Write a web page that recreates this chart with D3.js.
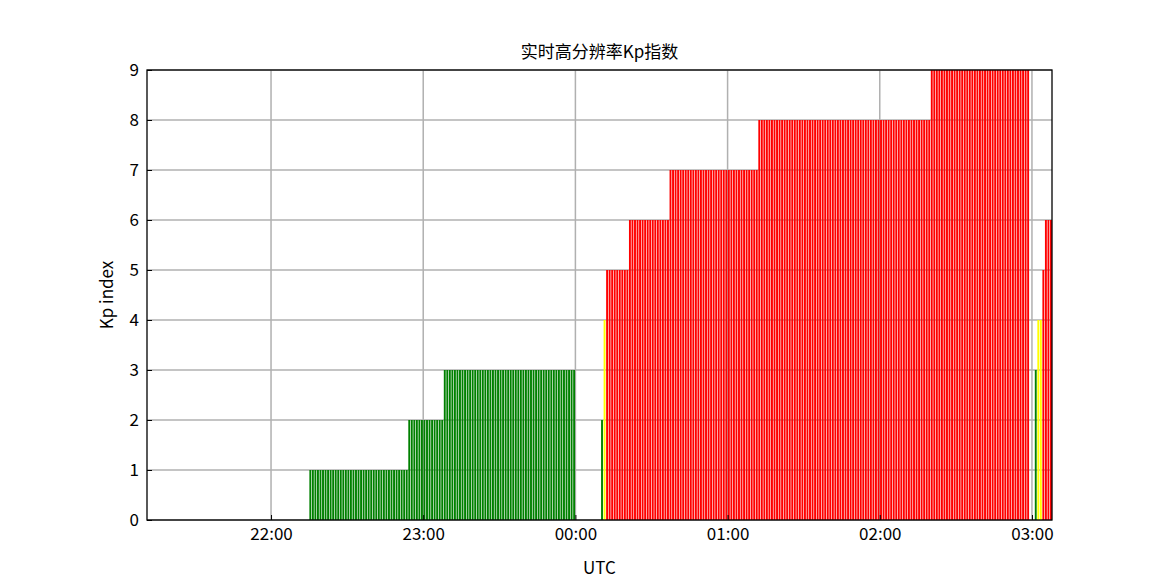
<!DOCTYPE html>
<meta charset="utf-8">
<style>
body { margin: 0; background: #fff; font-family: "Noto Sans CJK SC", "Noto Sans", sans-serif; }
svg text { fill: #000; }
.grid line { stroke: #b0b0b0; stroke-width: 1.5px; }
</style>
<body>
<div id="chart"></div>
<script src="https://d3js.org/d3.v7.min.js"></script>
<script>
// minutes relative to 22:00 UTC; runs of one-minute Kp readings [start, end(exclusive), kp]
var runStart = [-105, -66, -52, 130, 131, 132, 141, 157, 192, 260, 301, 302, 304, 305];
var runEnd   = [ -66, -52,   0, 131, 132, 141, 157, 192, 260, 299, 302, 304, 305, 308];
var runKp    = [   1,   2,   3,   2,   4,   5,   6,   7,   8,   9,   3,   4,   5,   6];
var tickMinutes = [0, 60, 120, 180, 240, 300];
var tickLabels = ['22:00', '23:00', '00:00', '01:00', '02:00', '03:00'];
var yTicks = [0, 1, 2, 3, 4, 5, 6, 7, 8, 9];

// shift first three runs: they start after 22:00
runStart[0] = 15; runEnd[0] = 54;
runStart[1] = 54; runEnd[1] = 68;
runStart[2] = 68; runEnd[2] = 120;

var bars = [];
runStart.forEach(function (s, i) {
  for (var m = s; m < runEnd[i]; m++) bars.push({ t: m, kp: runKp[i] });
});

var margin = { left: 147, right: 118, top: 70, bottom: 65 };
var W = 1170, H = 585;
var w = W - margin.left - margin.right, h = H - margin.top - margin.bottom;

var x = d3.scaleLinear().domain([-48.9, 307.9]).range([0, w]);
var y = d3.scaleLinear().domain([0, 9]).range([h, 0]);

var svg = d3.select('#chart').append('svg').attr('width', W).attr('height', H);
var g = svg.append('g').attr('transform', 'translate(' + [margin.left, margin.top] + ')');

var grid = g.append('g').attr('class', 'grid');
grid.selectAll('.gx').data(tickMinutes).enter().append('line')
  .attr('x1', x).attr('x2', x).attr('y1', 0).attr('y2', h);
grid.selectAll('.gy').data(yTicks).enter().append('line')
  .attr('y1', y).attr('y2', y).attr('x1', 0).attr('x2', w);

function color(kp) { return kp < 4 ? '#008000' : kp === 4 ? '#ffff00' : '#ff0000'; }
var bw = x(1) - x(0);
g.selectAll('.bar').data(bars).enter().append('rect')
  .attr('x', function (d) { return x(d.t) + 0.3; })
  .attr('width', bw * 0.75)
  .attr('y', function (d) { return y(d.kp); })
  .attr('height', function (d) { return h - y(d.kp); })
  .attr('fill', function (d) { return color(d.kp); });

var xAxis = d3.axisBottom(x).tickValues(tickMinutes)
  .tickFormat(function (d, i) { return tickLabels[i]; }).tickSizeInner(-5).tickSizeOuter(0).tickPadding(8);
var yAxis = d3.axisLeft(y).tickValues(yTicks).tickSizeInner(-5).tickSizeOuter(0).tickPadding(8);
var gx = g.append('g').attr('transform', 'translate(0,' + h + ')').call(xAxis);
var gy = g.append('g').call(yAxis);
[gx, gy].forEach(function (a) {
  a.select('.domain').remove();
  a.selectAll('text').style('font-size', '17px').style('font-family', '"Noto Sans CJK SC", sans-serif');
  a.selectAll('line').attr('stroke', '#000');
});

g.append('rect').attr('width', w).attr('height', h)
  .attr('fill', 'none').attr('stroke', '#000').attr('stroke-width', 1.3);

svg.append('text').attr('x', margin.left + w / 2).attr('y', 58).attr('text-anchor', 'middle')
  .style('font-size', '17px').text('实时高分辨率Kp指数');
svg.append('text').attr('x', margin.left + w / 2).attr('y', 574).attr('text-anchor', 'middle')
  .style('font-size', '17px').text('UTC');
svg.append('text').attr('transform', 'translate(113,' + (margin.top + h / 2) + ') rotate(-90)')
  .attr('text-anchor', 'middle').style('font-size', '17px').text('Kp index');
</script>
</body>
